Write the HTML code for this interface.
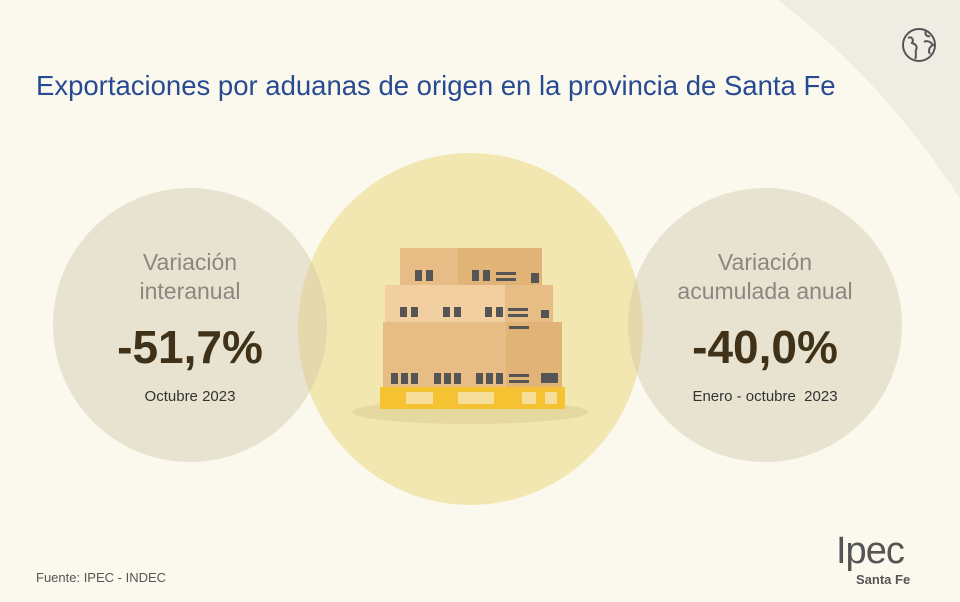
<!DOCTYPE html>
<html><head><meta charset="utf-8"><style>
html,body{margin:0;padding:0;width:960px;height:602px;overflow:hidden}
#wrap{width:960px;height:602px;position:relative;overflow:hidden;background:#efede3;font-family:"Liberation Sans",sans-serif}
.abs{position:absolute}
.bigbg{left:-483px;top:-163px;width:1566px;height:1566px;border-radius:50%;background:#fbf9ee}
.circ{border-radius:50%}
.t{position:absolute;text-align:center;width:300px}
</style></head><body>
<div id="wrap">
<div class="abs bigbg"></div>
<svg class="abs" style="left:900px;top:26px" width="38" height="38" viewBox="0 0 38 38">
<circle cx="19" cy="19" r="16" fill="none" stroke="#555" stroke-width="2"/>
<path d="M8 12 C12 10 14 14 12 17 C15 18 18 20 16 24 C15 27 17 30 15 33 M26 5 C24 9 28 11 30 10 M24 16 C27 14 31 16 33 19 C29 21 28 25 30 28" fill="none" stroke="#555" stroke-width="2"/>
</svg>
<div class="abs" style="left:36px;top:70px;font-size:27.5px;color:#284a93;white-space:nowrap">Exportaciones por aduanas de origen en la provincia de Santa Fe</div>
<div class="abs circ" style="left:298px;top:153px;width:345px;height:352px;background:#f3e7b1"></div>
<div class="abs circ" style="left:53px;top:188px;width:274px;height:274px;background:rgba(205,195,165,0.4)"></div>
<div class="abs circ" style="left:628px;top:188px;width:274px;height:274px;background:rgba(205,195,165,0.4)"></div>
<svg class="abs" style="left:340px;top:230px" width="260" height="200" viewBox="0 0 260 200">
<ellipse cx="130" cy="182" rx="118" ry="12" fill="#e6d9a0"/>
<rect x="60" y="18" width="60" height="40" fill="#e8bd85"/><rect x="118" y="18" width="84" height="40" fill="#e2b377"/>
<rect x="45" y="55" width="55" height="38" fill="#f1cfa1"/><rect x="88" y="55" width="55" height="38" fill="#f1cfa1"/><rect x="130" y="55" width="55" height="38" fill="#f1cfa1"/><rect x="165" y="55" width="48" height="38" fill="#e8bd85"/>
<rect x="43" y="92" width="44" height="65" fill="#e8bd85"/><rect x="85" y="92" width="44" height="65" fill="#e8bd85"/><rect x="127" y="92" width="44" height="65" fill="#e8bd85"/><rect x="166" y="92" width="56" height="65" fill="#e2b377"/>
<g fill="#555"><rect x="75" y="40" width="7" height="11"/><rect x="86" y="40" width="7" height="11"/><rect x="132" y="40" width="7" height="11"/><rect x="143" y="40" width="7" height="11"/><rect x="156" y="42" width="20" height="3"/><rect x="156" y="48" width="20" height="3"/><rect x="191" y="43" width="8" height="10"/>
<rect x="60" y="77" width="7" height="10"/><rect x="71" y="77" width="7" height="10"/><rect x="103" y="77" width="7" height="10"/><rect x="114" y="77" width="7" height="10"/><rect x="145" y="77" width="7" height="10"/><rect x="156" y="77" width="7" height="10"/><rect x="168" y="78" width="20" height="3"/><rect x="168" y="84" width="20" height="3"/><rect x="201" y="80" width="8" height="8"/>
<rect x="51" y="143" width="7" height="11"/><rect x="61" y="143" width="7" height="11"/><rect x="71" y="143" width="7" height="11"/><rect x="94" y="143" width="7" height="11"/><rect x="104" y="143" width="7" height="11"/><rect x="114" y="143" width="7" height="11"/><rect x="136" y="143" width="7" height="11"/><rect x="146" y="143" width="7" height="11"/><rect x="156" y="143" width="7" height="11"/><rect x="169" y="144" width="20" height="3"/><rect x="169" y="150" width="20" height="3"/><rect x="201" y="143" width="17" height="10"/><rect x="169" y="96" width="20" height="3"/></g>
<rect x="40" y="157" width="185" height="22" fill="#f5c331"/>
<g fill="#f7de9a"><rect x="66" y="162" width="27" height="12"/><rect x="118" y="162" width="36" height="12"/><rect x="182" y="162" width="14" height="12"/><rect x="205" y="162" width="12" height="12"/></g>
</svg>
<div class="t" style="left:40px;top:248px;font-size:23px;line-height:29px;color:#8a8780">Variación<br>interanual</div>
<div class="t" style="left:40px;top:320px;font-size:46px;font-weight:bold;color:#3f3218">-51,7%</div>
<div class="t" style="left:40px;top:388px;font-size:15px;color:#333">Octubre 2023</div>
<div class="t" style="left:615px;top:248px;font-size:23px;line-height:29px;color:#8a8780">Variación<br>acumulada anual</div>
<div class="t" style="left:615px;top:320px;font-size:46px;font-weight:bold;color:#3f3218">-40,0%</div>
<div class="t" style="left:615px;top:388px;font-size:15px;color:#333;white-space:pre">Enero - octubre  2023</div>
<div class="abs" style="left:36px;top:570px;font-size:13px;color:#555">Fuente: IPEC - INDEC</div>
<div class="abs" style="left:836px;top:530px;font-size:38px;color:#555;letter-spacing:-1px">Ipec</div>
<div class="abs" style="left:856px;top:572px;font-size:13px;font-weight:bold;color:#555">Santa Fe</div>
</div>
</body></html>
